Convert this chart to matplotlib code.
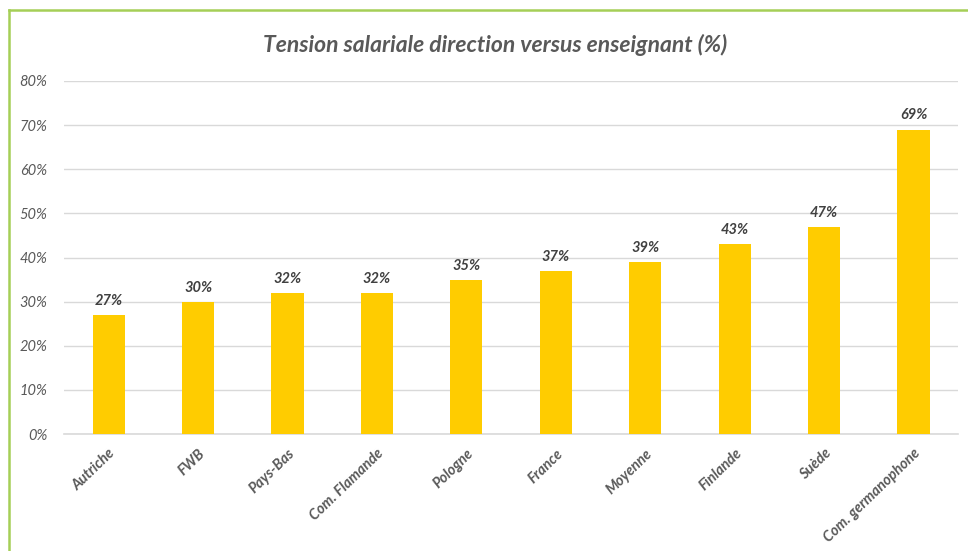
import numpy as np
import matplotlib.pyplot as plt
from matplotlib.lines import Line2D

plt.rcParams['font.family'] = ['Lato', 'DejaVu Sans']

pays = ['Autriche', 'FWB', 'Pays-Bas', 'Com. Flamande', 'Pologne', 'France',
        'Moyenne', 'Finlande', 'Suède', 'Com. germanophone']
tension = [27, 30, 32, 32, 35, 37, 39, 43, 47, 69]

gris = '#595959'

fig = plt.figure(figsize=(9.68, 5.51), dpi=100)
ax = fig.add_axes([0.066, 0.2123, 0.924, 0.6407])

x = np.arange(len(pays))
bars = ax.bar(x, tension, width=0.36, color='#FFCC00', zorder=3)

for xi, v in zip(x, tension):
    ax.text(xi, v + 1.6, f'{v}%', ha='center', va='bottom', fontsize=10.5,
            fontweight='bold', fontstyle='italic', color='#404040')

ax.set_xlim(-0.5, len(pays) - 0.5)
ax.set_ylim(0, 80)
ax.set_yticks(range(0, 81, 10))
ax.set_yticklabels([f'{t}%' for t in range(0, 81, 10)], fontstyle='italic',
                   fontsize=10.5, color=gris)
ax.set_xticks(x)
ax.set_xticklabels(pays, rotation=44, ha='right', rotation_mode='anchor',
                   fontsize=10.5, fontweight='bold', fontstyle='italic', color=gris)
ax.tick_params(length=0, axis='y', pad=12)
ax.tick_params(length=0, axis='x', pad=9)
ax.grid(axis='y', color='#D9D9D9', linewidth=1, zorder=0)
for s in ['top', 'right', 'left']:
    ax.spines[s].set_visible(False)
ax.spines['bottom'].set_color('#D9D9D9')
ax.spines['bottom'].set_linewidth(1.2)

fig.text(0.512, 0.918, 'Tension salariale direction versus enseignant (%)',
         ha='center', va='center', fontsize=16.5, fontweight='bold',
         fontstyle='italic', color=gris)

# cadre vert (haut et gauche)
vert = '#A5CF57'
fig.add_artist(Line2D([0.0098, 1.0], [0.981, 0.981], transform=fig.transFigure,
                      color=vert, linewidth=1.8))
fig.add_artist(Line2D([0.0098, 0.0098], [0.0, 0.981], transform=fig.transFigure,
                      color=vert, linewidth=1.8))

fig.savefig('out.png', dpi=100)
